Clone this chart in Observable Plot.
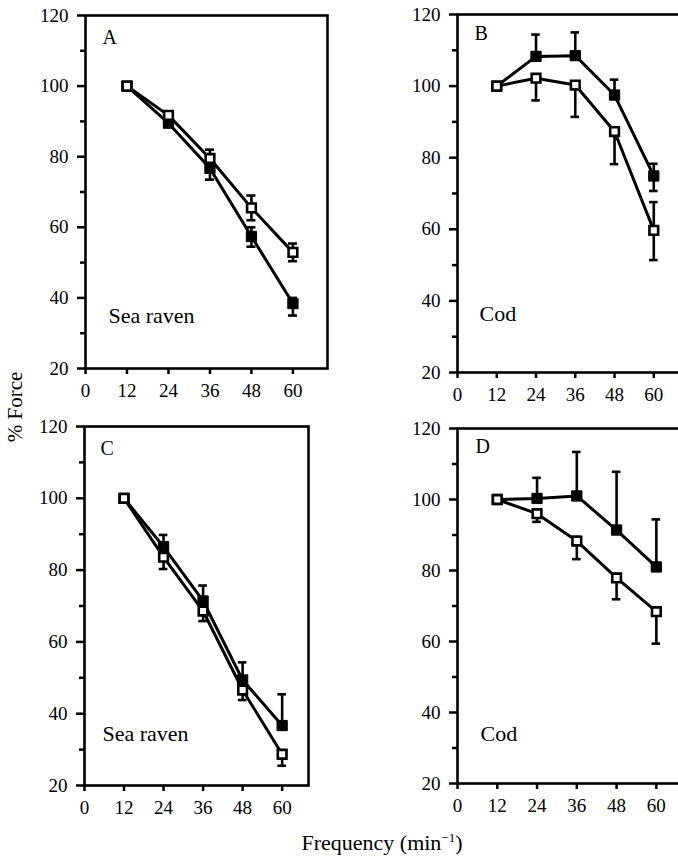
<!DOCTYPE html>
<html>
<head>
<meta charset="utf-8">
<script src="https://cdn.jsdelivr.net/npm/d3@7"></script>
<script src="https://cdn.jsdelivr.net/npm/@observablehq/plot@0.6"></script>
<style>
  html, body { margin: 0; padding: 0; background: #fff; overflow: hidden; }
  #wrap { position: relative; width: 678px; height: 859px; overflow: hidden; font-family: "Liberation Serif", "DejaVu Serif", serif; color: #000; }
  .panel { position: absolute; }
  #wrap svg { max-width: none !important; overflow: visible; }
  .ytitle { position: absolute; left: 15px; top: 407px; transform: translate(-50%, -50%) rotate(-90deg); font-size: 21px; white-space: nowrap; }
  .xtitle { position: absolute; left: 382px; top: 830px; transform: translateX(-50%); font-size: 22px; white-space: nowrap; }
</style>
</head>
<body>
<div id="wrap">
  <div class="ytitle">% Force</div>
  <div class="xtitle">Frequency (min<sup style="font-size:13px">−1</sup>)</div>
</div>
<script>
// ---- data ----
const freq = [12, 24, 36, 48, 60];
const xTicks = [0, 12, 24, 36, 48, 60];
const yTicks = [20, 40, 60, 80, 100, 120];
const yMinor = [30, 50, 70, 90, 110];

// Panel A – Sea raven
const A_filled = [100, 89.5, 76.7, 57.4, 38.4];
const A_filledBar = [null, [88.5, 90.5], [73.5, 79.5], [54.5, 60], [35, 40]];
const A_open = [100, 91.7, 79.5, 65.5, 52.9];
const A_openBar = [null, [90.7, 92.7], [77, 82], [62, 69], [50.4, 55.4]];

// Panel B – Cod
const B_filled = [100, 108.3, 108.5, 97.5, 74.9];
const B_filledBar = [null, [108.3, 114.4], [108.5, 115], [97.5, 101.8], [70.7, 78.3]];
const B_open = [100, 102.2, 100.3, 87.3, 59.7];
const B_openBar = [null, [96, 102.2], [91.4, 100.3], [78.2, 87.3], [51.4, 67.6]];

// Panel C – Sea raven
const C_filled = [100, 86.5, 71.4, 49.4, 36.7];
const C_filledBar = [null, [86.5, 89.8], [71.4, 75.7], [49.4, 54.3], [36.7, 45.4]];
const C_open = [100, 83.6, 68.6, 46.6, 28.7];
const C_openBar = [null, [80.3, 83.6], [65.8, 68.6], [43.8, 46.6], [25.5, 28.7]];

// Panel D – Cod
const D_filled = [100, 100.3, 101, 91.4, 81];
const D_filledBar = [null, [100.3, 106.1], [101, 113.4], [91.4, 107.8], [81, 94.4]];
const D_open = [100, 96, 88.3, 77.9, 68.4];
const D_openBar = [null, [93.7, 96], [83.2, 89.5], [71.9, 79], [59.4, 68.4]];

const panelLetters = ["A", "B", "C", "D"];
const species = ["Sea raven", "Cod", "Sea raven", "Cod"];

// ---- drawing ----
function rows(vals, bars) {
  return freq.map((x, i) => ({x, y: vals[i], lo: bars[i] ? bars[i][0] : null, hi: bars[i] ? bars[i][1] : null}));
}

function panel(cfg) {
  const filled = rows(cfg.filled, cfg.filledBar);
  const open = rows(cfg.open, cfg.openBar);
  const bars = [...filled, ...open].filter(d => d.lo != null);
  const cap = 1.3;
  const svg = Plot.plot({
    width: cfg.width, height: cfg.height,
    marginLeft: cfg.ml, marginRight: cfg.mr, marginTop: cfg.mt, marginBottom: cfg.mb,
    x: {domain: [0, cfg.xmax]},
    y: {domain: [20, 120]},
    style: {fontFamily: "Liberation Serif", fontSize: "19px", color: "#000", background: "transparent", overflow: "visible"},
    marks: [
      Plot.axisX({ticks: xTicks, tickSize: 6, tickPadding: 9, strokeWidth: 2.5, label: null}),
      Plot.axisY({ticks: yTicks, tickSize: 8, tickPadding: 9, strokeWidth: 2.5, label: null}),
      Plot.axisY({ticks: yMinor, tickSize: 5, strokeWidth: 2.5, tickFormat: () => "", label: null}),
      Plot.line(filled, {x: "x", y: "y", stroke: "#000", strokeWidth: 3}),
      Plot.line(open, {x: "x", y: "y", stroke: "#000", strokeWidth: 3}),
      Plot.ruleX(bars, {x: "x", y1: "lo", y2: "hi", stroke: "#000", strokeWidth: 2.6}),
      Plot.ruleY(bars, {y: "lo", x1: d => d.x - cap, x2: d => d.x + cap, stroke: "#000", strokeWidth: 2.6}),
      Plot.ruleY(bars, {y: "hi", x1: d => d.x - cap, x2: d => d.x + cap, stroke: "#000", strokeWidth: 2.6}),
      Plot.dot(filled, {x: "x", y: "y", symbol: "square", r: 5.8, fill: "#000", stroke: "#000", strokeWidth: 1}),
      Plot.dot(open, {x: "x", y: "y", symbol: "square", r: 4.9, fill: "#fff", stroke: "#000", strokeWidth: 2.6}),
      Plot.text([cfg.letter], {frameAnchor: "top-left", dx: cfg.letterDx, dy: cfg.letterDy, text: d => d, fontSize: 20, textAnchor: "start"}),
      Plot.text([cfg.species], {frameAnchor: "bottom-left", dx: cfg.spDx, dy: cfg.spDy, text: d => d, fontSize: 22, textAnchor: "start"}),
      Plot.frame({stroke: "#000", strokeWidth: 2.6})
    ]
  });
  d3.select(svg).style("font-family", "'Liberation Serif', serif").style("font-size", "19px");
  d3.select(svg).selectAll("text").style("font-family", "'Liberation Serif', serif");
  d3.select(svg).selectAll("g[aria-label='x-axis tick label'] text, g[aria-label='y-axis tick label'] text").style("font-size", "19px");
  return svg;
}

const cfgs = [
  {left: 0, top: 0, width: 340, height: 400, ml: 85, mr: 13, mt: 15, mb: 32, xmax: 70,
   filled: A_filled, filledBar: A_filledBar, open: A_open, openBar: A_openBar,
   letter: panelLetters[0], species: species[0], letterDx: 17, letterDy: 14, spDx: 23, spDy: -46},
  {left: 380, top: 0, width: 320, height: 400, ml: 77, mr: 14, mt: 14, mb: 28, xmax: 70,
   filled: B_filled, filledBar: B_filledBar, open: B_open, openBar: B_openBar,
   letter: panelLetters[1], species: species[1], letterDx: 17, letterDy: 11, spDx: 22, spDy: -52},
  {left: 0, top: 400, width: 340, height: 420, ml: 84, mr: 32, mt: 26, mb: 35, xmax: 68,
   filled: C_filled, filledBar: C_filledBar, open: C_open, openBar: C_openBar,
   letter: panelLetters[2], species: species[2], letterDx: 16, letterDy: 14, spDx: 18, spDy: -45},
  {left: 380, top: 400, width: 320, height: 420, ml: 77, mr: 11, mt: 28, mb: 37, xmax: 70,
   filled: D_filled, filledBar: D_filledBar, open: D_open, openBar: D_openBar,
   letter: panelLetters[3], species: species[3], letterDx: 18, letterDy: 10, spDx: 23, spDy: -43}
];

const wrap = document.getElementById("wrap");
for (const c of cfgs) {
  const div = document.createElement("div");
  div.className = "panel";
  div.style.left = c.left + "px";
  div.style.top = c.top + "px";
  div.style.width = c.width + "px";
  div.style.height = c.height + "px";
  div.appendChild(panel(c));
  wrap.appendChild(div);
}
</script>
</body>
</html>
